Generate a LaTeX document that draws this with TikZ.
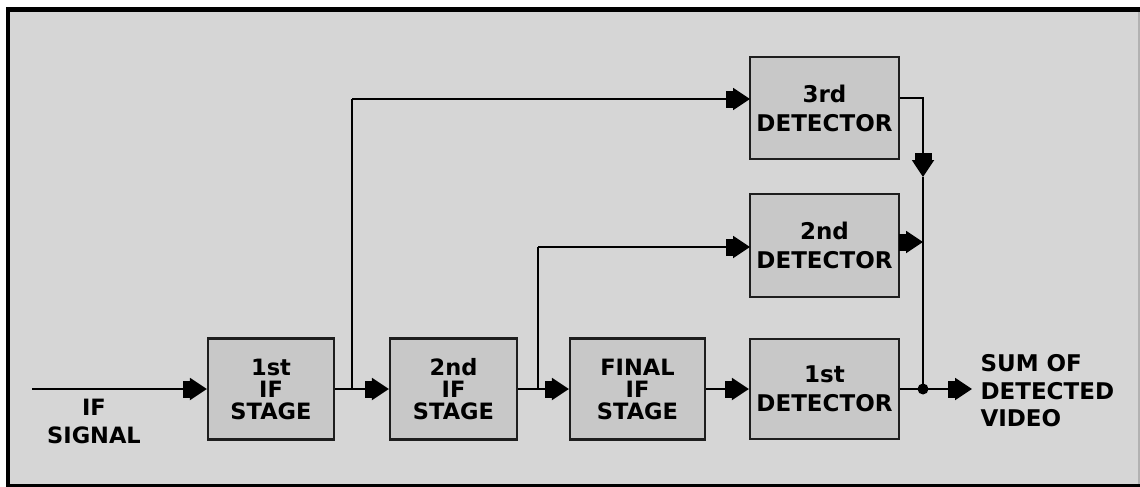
\documentclass[tikz,border=0pt]{standalone}
\usepackage{fontspec}
\setsansfont{DejaVu Sans}
\usetikzlibrary{arrows.meta}
\definecolor{bg}{HTML}{D6D6D6}
\definecolor{boxfill}{HTML}{C8C8C8}
\definecolor{edge}{HTML}{1E1E1E}
\begin{document}
\begin{tikzpicture}[x=1pt,y=-1pt,
  every node/.style={font=\sffamily\bfseries\fontsize{22.5}{22}\selectfont, text=black},
  ifbox/.style={draw=edge, line width=2.2pt, fill=boxfill, align=center, inner sep=0pt,
     minimum height=101pt},
  detbox/.style={draw=edge, line width=2.2pt, fill=boxfill, align=center, inner sep=0pt,
     minimum width=149pt, font=\sffamily\bfseries\fontsize{23}{29}\selectfont},
  wire/.style={line width=2pt, draw=black},
  arr/.style={wire, -{Rectangle[length=7pt,width=17pt,sep=0pt]Triangle[length=17pt,width=22pt]}},
  dot/.style={circle, fill=black, inner sep=0pt, minimum size=11pt}
]
\useasboundingbox (0,0) rectangle (1140,487);
% frame
\fill[white] (0,0) rectangle (1140,487);
\fill[black] (6,7) rectangle (1140,487);
\fill[bg] (10,12) rectangle (1140,484);
\fill[black!30] (1138,12) rectangle (1140,484);

% boxes
\node[ifbox, minimum width=126pt] (s1) at (271,389) {1st\\IF\\STAGE};
\node[ifbox, minimum width=127pt] (s2) at (453.5,389) {2nd\\IF\\STAGE};
\node[ifbox, minimum width=135pt] (s3) at (637.5,389) {FINAL\\IF\\STAGE};
\node[detbox, minimum height=100pt] (d1) at (824.5,389) {1st\\DETECTOR};
\node[detbox, minimum height=103pt] (d2) at (824.5,245.5) {2nd\\DETECTOR};
\node[detbox, minimum height=102pt] (d3) at (824.5,108) {3rd\\DETECTOR};

% labels
\node[align=center, font=\sffamily\bfseries\fontsize{22.5}{28}\selectfont] (lin) at (94,421) {IF\\SIGNAL};
\node[align=left, anchor=west, font=\sffamily\bfseries\fontsize{23}{27.5}\selectfont] (lout) at (977,391) {SUM OF\\DETECTED\\VIDEO};

% coordinates
\coordinate (in) at (32,389);
\coordinate (b1) at (352,389);
\coordinate (b2) at (538,389);
\coordinate (t3) at (750,99);
\coordinate (t2) at (750,247);
\coordinate (o3) at (923,98);
\coordinate (a3) at (923,177);
\coordinate (o2) at (923,242);
\node[dot] (j) at (923,389) {};
\coordinate (out) at (972,389);

% connectors
\draw[arr] (in) -- (s1.west);
\draw[arr] (s1.east) -- (s2.west);
\draw[arr] (s2.east) -- (s3.west);
\draw[arr] (s3.east) -- (d1.west);
\draw[wire] (b1) -- (b1 |- t3);
\draw[arr] (b1 |- t3) -- (t3);
\draw[wire] (b2) -- (b2 |- t2);
\draw[arr] (b2 |- t2) -- (t2);
\draw[arr] (d3.east |- o3) -- (o3) -- (a3);
\draw[wire] (a3) -- (j.center);
\draw[arr] (d2.east |- o2) -- (o2);
\draw[wire] (d1.east) -- (j.center);
\draw[arr] (j.center) -- (out);
\end{tikzpicture}
\end{document}
